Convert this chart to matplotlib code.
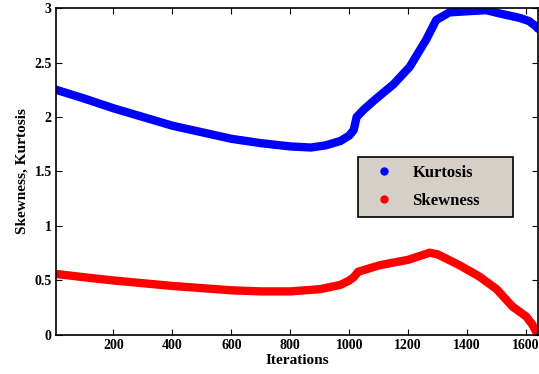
import matplotlib
matplotlib.use("Agg")
import matplotlib.pyplot as plt
from matplotlib.lines import Line2D
from matplotlib.ticker import FormatStrFormatter

plt.rcParams['font.family'] = ['Liberation Serif', 'DejaVu Serif']
plt.rcParams['font.weight'] = 'bold'

# values
iters_kurt = [5, 100, 200, 300, 400, 500, 600, 700, 800, 870, 920, 970, 1000,
              1015, 1025, 1050, 1092, 1150, 1205, 1261, 1295, 1340, 1400,
              1465, 1510, 1577, 1610, 1634, 1640]
kurtosis = [2.25, 2.17, 2.08, 2.0, 1.92, 1.86, 1.8, 1.76, 1.73, 1.72, 1.74,
            1.78, 1.83, 1.88, 2.0, 2.07, 2.17, 2.3, 2.46, 2.71, 2.89, 2.96,
            2.97, 2.98, 2.95, 2.91, 2.88, 2.83, 2.81]

iters_skew = [5, 100, 200, 300, 400, 500, 600, 700, 800, 900, 970, 1000,
              1015, 1030, 1103, 1200, 1273, 1300, 1374, 1442, 1500, 1554,
              1600, 1620, 1634, 1640]
skewness = [0.56, 0.53, 0.5, 0.475, 0.45, 0.43, 0.41, 0.4, 0.4, 0.42, 0.46,
            0.5, 0.53, 0.58, 0.64, 0.69, 0.755, 0.74, 0.64, 0.535, 0.42,
            0.26, 0.17, 0.1, 0.03, 0.0]

xticks = [200, 400, 600, 800, 1000, 1200, 1400, 1600]
yticks = [0, 0.5, 1, 1.5, 2, 2.5, 3]

fig = plt.figure(figsize=(5.39, 3.74), dpi=100)
ax = fig.add_axes([0.1039, 0.1043, 0.8941, 0.8743])

ax.plot(iters_kurt, kurtosis, color='#0000ff', lw=6, solid_capstyle='round',
        solid_joinstyle='round')
ax.plot(iters_skew, skewness, color='#ff0000', lw=6, solid_capstyle='round',
        solid_joinstyle='round')

ax.set_xlim(5, 1640)
ax.set_ylim(0, 3)
ax.set_xticks(xticks)
ax.set_yticks(yticks)
ax.yaxis.set_major_formatter(FormatStrFormatter('%g'))
ax.tick_params(direction='in', top=True, right=True, labelsize=10, length=4,
               width=0.8, pad=3)
for lbl in ax.get_xticklabels() + ax.get_yticklabels():
    lbl.set_fontweight('bold')
for sp in ax.spines.values():
    sp.set_linewidth(1.2)

ax.set_xlabel('Iterations', fontsize=11, fontweight='bold', labelpad=1)
ax.set_ylabel('Skewness, Kurtosis', fontsize=11, fontweight='bold', labelpad=4)

handles = [Line2D([], [], ls='none', marker='o', ms=5, color='#0000ff'),
           Line2D([], [], ls='none', marker='o', ms=5, color='#ff0000')]
leg = ax.legend(handles, ['Kurtosis', 'Skewness'], loc='upper left',
                bbox_to_anchor=(0.627, 0.373, 0.3216, 0.171), mode='expand',
                fancybox=False, framealpha=1,
                facecolor='#d4d0c8', edgecolor='black',
                prop={'weight': 'bold', 'size': 12}, handletextpad=0.6,
                borderpad=0.45, labelspacing=0.75, handlelength=2.2,
                borderaxespad=0)
leg.get_frame().set_linewidth(1.2)

fig.savefig('out.png', dpi=100)
